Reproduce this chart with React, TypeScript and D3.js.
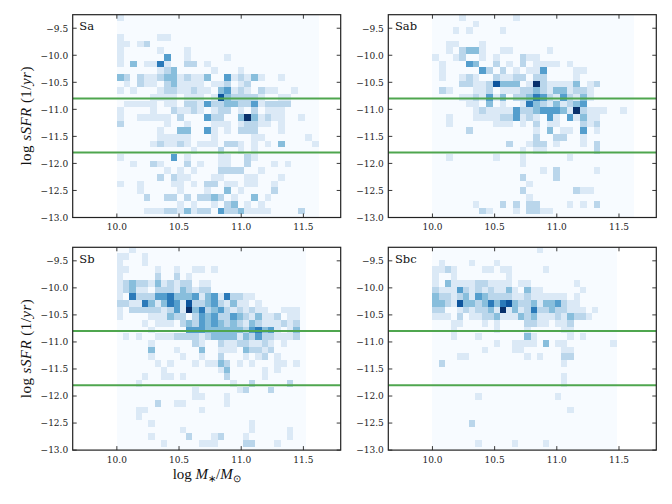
import React from 'react';
import * as d3 from 'd3';

// ---------------- data ----------------
const panelNames = ['Sa', 'Sab', 'Sb', 'Sbc'];
const xTicks = [10.0, 10.5, 11.0, 11.5];
const yTicks = [-9.5, -10.0, -10.5, -11.0, -11.5, -12.0, -12.5, -13.0];
const cutLines = [-10.8, -11.8];
const xDomain = [9.645, 11.8];
const yDomain = [-13.0, -9.25];
const histXMin = [10.0, 10.0, 10.0, 10.0];
const histXMax = [11.62, 11.62, 11.52, 11.48];
const histYTop = -9.234;
const histYStep = 0.1235;
const nxBins = 30;
const nyBins = 31;
const maxCount = 7;

// counts per cell, rows from top (high sSFR) to bottom, columns from low to high mass
const saCounts = [
  '100000000000000000000000000000',
  '000000000000000000000000000000',
  '000000000000000000000000000000',
  '100000110000000000000000000000',
  '110120000000000000000000000000',
  '100000100010000000000000000000',
  '100000040010000010000000000000',
  '103011510022010000000000000000',
  '000000123000001000100000000000',
  '320211233121130041213100100000',
  '010211023111101120120000000000',
  '101000122112110341210211001000',
  '000001111011101632222100110000',
  '011111011022142233224122220000',
  '100001002112101220102011100000',
  '100111110200042200373121100100',
  '200000010010001110122110100000',
  '000000100330041010222000100000',
  '000000111110001000001100000010',
  '000001211210111022101010300001',
  '000000000001000200101000000000',
  '100000004010000110021000000000',
  '001002100020100110020001010000',
  '000000010101000222200100000000',
  '000000202110001100011000100000',
  '100100001101022011011001000000',
  '000100000100010030100002000000',
  '000020022020223201003010000000',
  '000000000101001023010100000000',
  '000011122131220422311110000200',
];

const sabCounts = [
  '000010000000100000000000000000',
  '000000100000000000000000000000',
  '000101000010000000000000000000',
  '000000000000000000000000000000',
  '001100010000000000000000000000',
  '001023310011000001000000000000',
  '100120010100021100000000000000',
  '010004300201020111101000000000',
  '010000042020101140000110000000',
  '010012100211220220000100000000',
  '000022112633301721111301200000',
  '021000112011122321331221000000',
  '000011214130223542142131000000',
  '000001103010015321312340000000',
  '000000121111422344431721110010',
  '001000111122412104104131100000',
  '001000000111010201100021200000',
  '000002000000000103011040100000',
  '000000000000000200220010000000',
  '000000000002001220100010200000',
  '000000000000010110000000200000',
  '001000000100010000001000000000',
  '000000000000010000000000000000',
  '000000000000000010200000100000',
  '000000000000020000200000000000',
  '000000000000001000000000000000',
  '000000000000020000000211000000',
  '000000000000001000000000000000',
  '000000100020202200001010200000',
  '000000021000102211000000000000',
];

const sbCounts = [
  '001000000000000000000000000000',
  '110010000000000000000000000000',
  '100010000000000000000000000000',
  '110000100100110100000000000000',
  '100000200201000000000000000000',
  '123221312122011000000000000000',
  '123110222132122000000000000000',
  '105222445333413415221100000000',
  '221153135416223421311010000000',
  '102222212417352342121211001110',
  '100001113220243422432131120110',
  '000010111023243432321321112120',
  '000001000004443333332453410130',
  '010100111222212333313242211120',
  '000001000000210021122112101000',
  '000003000100030011103221200000',
  '000001000010010020001012010000',
  '000000101000101132010100011010',
  '000000010000000013000001010000',
  '000010011010000002000001000000',
  '000100000000000000100200000200',
  '000000000000100000012000200000',
  '000000000000110001000000000000',
  '000000200110000001000000000000',
  '000110000000010000000000000000',
  '000100000000000000000000000000',
  '000001000000000000000100000000',
  '000000000010000000000100000100',
  '000001000002000120001000000100',
  '000000010000011100002200010000',
];

const sbcCounts = [
  '000000000000000001000000000000',
  '000000000000000000000000000000',
  '010000100010000000000000000000',
  '112100001101100000100000000000',
  '100100000000100000000000000000',
  '103111122111101100000001000000',
  '211142121211310311000000100000',
  '322123143222211211111101000000',
  '332163323535632231334211000000',
  '220012122317131252232211101000',
  '111020112231113231112132210000',
  '000110001010000221101120000000',
  '000100000010000100000110000000',
  '000100010000000310000010100000',
  '000000000010011110301100000001',
  '000000001000011000000110000000',
  '000011000000000101000220000000',
  '020000000000000000000100000000',
  '000000000000000000000000000000',
  '000000000000000000000100000000',
  '000000000000000000000100000000',
  '000000000000000000000000000000',
  '000000010000000000001000000000',
  '000000000000000000000000000000',
  '000000000000000000000010000000',
  '000000000000000000000000000000',
  '000000200000000000000000000000',
  '000000000000000000000000000000',
  '000000000000000000000000000000',
  '000000010000010000100000000000',
];

const allCounts = [saCounts, sabCounts, sbCounts, sbcCounts];

// ---------------- layout ----------------
const W = 268;
const H = 202.8;
const lefts = [72.7, 388.3, 72.7, 388.3];
const tops = [14.7, 14.7, 247.3, 247.3];
const serif = '"DejaVu Serif", serif';
const mathFont = '"Liberation Serif", serif';
const fmt = d3.format('.1f');
const minus = (v: number) => fmt(v).replace('-', '\u2212');

function Panel({ idx }: { idx: number }) {
  const left = lefts[idx];
  const top = tops[idx];
  const x = d3.scaleLinear().domain(xDomain).range([left, left + W]);
  const y = d3.scaleLinear().domain(yDomain).range([top + H, top]);
  const color = d3.scaleSequential(d3.interpolateBlues).domain([0, maxCount]).clamp(true);
  const counts = allCounts[idx];
  const dx = (histXMax[idx] - histXMin[idx]) / nxBins;
  const cells: JSX.Element[] = [];
  for (let r = 0; r < nyBins; r++) {
    const row = counts[r] || '';
    for (let c = 0; c < nxBins; c++) {
      const v = +(row[c] || '0');
      const x0 = histXMin[idx] + c * dx;
      const yHi = histYTop - r * histYStep;
      const yLo = yHi - histYStep;
      cells.push(
        <rect
          key={`${r}-${c}`}
          x={x(x0)}
          y={y(yHi)}
          width={x(x0 + dx) - x(x0) + 0.4}
          height={y(yLo) - y(yHi) + 0.4}
          fill={color(v)}
        />
      );
    }
  }
  const clipId = `clip${idx}`;
  const tickLen = 4;
  return (
    <g>
      <defs>
        <clipPath id={clipId}>
          <rect x={left} y={top} width={W} height={H} />
        </clipPath>
      </defs>
      <rect x={left} y={top} width={W} height={H} fill="#ffffff" />
      <g clipPath={`url(#${clipId})`} shapeRendering="crispEdges">
        {cells}
      </g>
      <g clipPath={`url(#${clipId})`}>
        {cutLines.map((v) => (
          <line key={v} x1={left} x2={left + W} y1={y(v)} y2={y(v)} stroke="#4fa64f" strokeWidth={2} />
        ))}
      </g>
      {/* ticks */}
      <g stroke="#222" strokeWidth={0.9}>
        {xTicks.map((t) => (
          <g key={`xt${t}`}>
            <line x1={x(t)} x2={x(t)} y1={top + H} y2={top + H - tickLen} />
            <line x1={x(t)} x2={x(t)} y1={top} y2={top + tickLen} />
          </g>
        ))}
        {yTicks.map((t) => (
          <g key={`yt${t}`}>
            <line x1={left} x2={left + tickLen} y1={y(t)} y2={y(t)} />
            <line x1={left + W} x2={left + W - tickLen} y1={y(t)} y2={y(t)} />
          </g>
        ))}
      </g>
      <rect x={left} y={top} width={W} height={H} fill="none" stroke="#222" strokeWidth={1.2} />
      {/* tick labels */}
      <g fontFamily={serif} fontSize={9} fill="#222">
        {xTicks.map((t) => (
          <text key={`xl${t}`} x={x(t)} y={top + H + 12.5} textAnchor="middle">
            {fmt(t)}
          </text>
        ))}
        {yTicks.map((t) => (
          <text key={`yl${t}`} x={left - 4.5} y={y(t) + 3.3} textAnchor="end">
            {minus(t)}
          </text>
        ))}
      </g>
      <text x={left + 6.6} y={top + 15.5} fontFamily={serif} fontSize={11.5} fill="#111">
        {panelNames[idx]}
      </text>
    </g>
  );
}

function YLabel({ cy }: { cy: number }) {
  return (
    <text
      transform={`translate(30.5,${cy}) rotate(-90)`}
      textAnchor="middle"
      fontFamily={mathFont}
      fontSize={15}
      fill="#111"
      textLength={99}
      lengthAdjust="spacing"
    >
      <tspan>log </tspan>
      <tspan fontStyle="italic">sSFR</tspan>
      <tspan> (1/</tspan>
      <tspan fontStyle="italic">yr</tspan>
      <tspan>)</tspan>
    </text>
  );
}

function XLabel({ cx, by }: { cx: number; by: number }) {
  return (
    <text x={cx} y={by} textAnchor="middle" fontFamily={mathFont} fontSize={15} fill="#111">
      <tspan>log </tspan>
      <tspan fontStyle="italic">M</tspan>
      <tspan fontSize={10} dy={3}>{'\u2217'}</tspan>
      <tspan dy={-3}>/</tspan>
      <tspan fontStyle="italic">M</tspan>
      <tspan fontSize={10} dy={3}>{'\u2299'}</tspan>
    </text>
  );
}

export default function App() {
  return (
    <svg
      width={672}
      height={504}
      viewBox="0 0 672 504"
      style={{ position: 'absolute', left: 0, top: 0, background: '#ffffff' }}
    >
      {panelNames.map((_, i) => (
        <Panel key={i} idx={i} />
      ))}
      <YLabel cy={tops[0] + H / 2} />
      <YLabel cy={tops[2] + H / 2} />
      <XLabel cx={lefts[2] + W / 2} by={478.5} />
    </svg>
  );
}
